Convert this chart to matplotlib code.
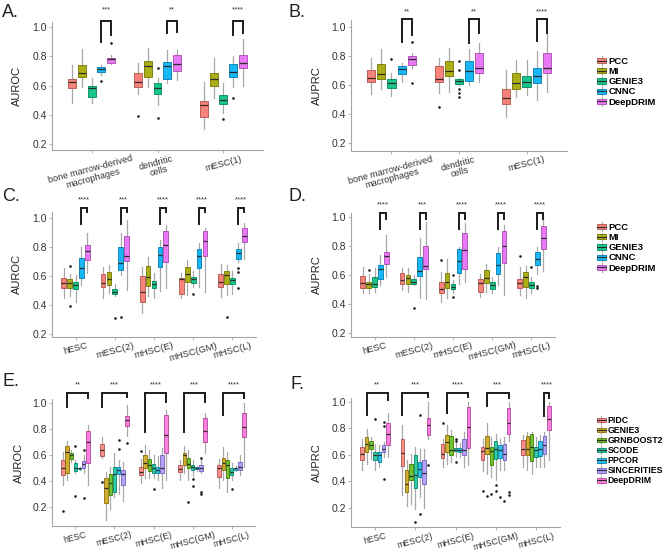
import matplotlib
matplotlib.use("Agg")
import matplotlib.pyplot as plt
import matplotlib.colors as mcolors
from matplotlib.legend_handler import HandlerBase
from matplotlib.patches import Rectangle, Patch
from matplotlib.lines import Line2D
from matplotlib.transforms import ScaledTranslation

plt.rcParams['font.family'] = ['Liberation Sans', 'DejaVu Sans']

# ---------------------------------------------------------------------------
# Données : [groupe][méthode]
# ---------------------------------------------------------------------------
METHODS_5 = ["PCC", "MI", "GENIE3", "CNNC", "DeepDRIM"]
COLORS_5 = ["#F8766D", "#A3A500", "#00BF7D", "#00B0F6", "#E76BF3"]
METHODS_7 = ["PIDC", "GENIE3", "GRNBOOST2", "SCODE", "PPCOR", "SINCERITIES", "DeepDRIM"]
COLORS_7 = ["#F8766D", "#C49A00", "#53B400", "#00C094", "#00B6EB", "#A58AFF", "#FB61D7"]

GROUPS_AB = ["bone marrow-derived\nmacrophages", "dendritic\ncells", "mESC(1)"]
GROUPS_CF = ["hESC", "mESC(2)", "mHSC(E)", "mHSC(GM)", "mHSC(L)"]
YTICKS = [0.2, 0.4, 0.6, 0.8, 1.0]

# A. AUROC
A_LO = [[0.48, 0.59, 0.48, 0.67, 0.75], [0.541, 0.593, 0.467, 0.616, 0.639], [0.30, 0.513, 0.41, 0.593, 0.60]]
A_Q1 = [[0.586, 0.657, 0.52, 0.696, 0.758], [0.593, 0.662, 0.541, 0.646, 0.703], [0.383, 0.598, 0.474, 0.657, 0.719]]
A_MED = [[0.627, 0.689, 0.582, 0.717, 0.783], [0.623, 0.737, 0.582, 0.735, 0.746], [0.467, 0.643, 0.502, 0.696, 0.758]]
A_Q3 = [[0.646, 0.742, 0.60, 0.728, 0.792], [0.685, 0.769, 0.616, 0.76, 0.81], [0.495, 0.685, 0.536, 0.746, 0.81]]
A_HI = [[0.742, 0.849, 0.655, 0.742, 0.81], [0.753, 0.856, 0.65, 0.845, 0.845], [0.627, 0.792, 0.616, 0.803, 0.92]]
A_OUT = [(0, 3, 0.63), (0, 4, 0.89), (1, 0, 0.394), (1, 2, 0.376), (1, 2, 0.72), (2, 2, 0.37), (2, 3, 0.518)]
A_SIG = ["***", "**", "****"]

# B. AUPRC
B_LO = [[0.538, 0.57, 0.527, 0.618, 0.714], [0.543, 0.554, 0.60, 0.60, 0.623], [0.383, 0.52, 0.53, 0.497, 0.554]]
B_Q1 = [[0.623, 0.641, 0.577, 0.673, 0.737], [0.623, 0.662, 0.607, 0.63, 0.685], [0.468, 0.573, 0.584, 0.616, 0.68]]
B_MED = [[0.646, 0.675, 0.611, 0.707, 0.78], [0.641, 0.698, 0.627, 0.694, 0.717], [0.509, 0.616, 0.623, 0.664, 0.715]]
B_Q3 = [[0.703, 0.744, 0.641, 0.73, 0.799], [0.73, 0.765, 0.639, 0.767, 0.822], [0.573, 0.68, 0.662, 0.72, 0.82]]
B_HI = [[0.783, 0.845, 0.68, 0.749, 0.817], [0.783, 0.856, 0.65, 0.845, 0.886], [0.703, 0.77, 0.77, 0.83, 0.95]]
B_OUT = [(0, 2, 0.78), (0, 4, 0.897), (0, 4, 0.611), (1, 0, 0.447),
         (1, 2, 0.765), (1, 2, 0.70), (1, 2, 0.575), (1, 2, 0.545), (1, 2, 0.52)]
B_SIG = ["**", "**", "****"]

# C. AUROC
C_LO = [[0.447, 0.465, 0.424, 0.539, 0.62], [0.451, 0.481, 0.46, 0.608, 0.504], [0.343, 0.465, 0.447, 0.497, 0.516],
        [0.447, 0.47, 0.527, 0.527, 0.493], [0.458, 0.47, 0.48, 0.70, 0.716]]
C_Q1 = [[0.516, 0.516, 0.509, 0.585, 0.71], [0.527, 0.539, 0.475, 0.643, 0.705], [0.419, 0.532, 0.516, 0.666, 0.696],
        [0.474, 0.562, 0.55, 0.654, 0.74], [0.527, 0.544, 0.544, 0.72, 0.839]]
C_MED = [[0.555, 0.55, 0.539, 0.654, 0.774], [0.55, 0.58, 0.49, 0.689, 0.74], [0.493, 0.597, 0.546, 0.746, 0.816],
         [0.58, 0.615, 0.578, 0.74, 0.843], [0.557, 0.608, 0.573, 0.758, 0.88]]
C_Q3 = [[0.585, 0.578, 0.562, 0.723, 0.816], [0.613, 0.627, 0.509, 0.80, 0.878], [0.603, 0.673, 0.569, 0.804, 0.912],
        [0.59, 0.666, 0.597, 0.786, 0.912], [0.615, 0.636, 0.59, 0.786, 0.935]]
C_HI = [[0.659, 0.613, 0.608, 0.804, 0.896], [0.666, 0.677, 0.545, 0.896, 0.988], [0.666, 0.735, 0.62, 0.85, 0.954],
        [0.62, 0.712, 0.636, 0.827, 0.935], [0.682, 0.677, 0.636, 0.827, 0.965]]
C_OUT = [(0, 1, 0.396), (0, 1, 0.67), (1, 2, 0.313), (1, 3, 0.32), (3, 2, 0.48),
         (4, 1, 0.32), (4, 3, 0.66), (4, 3, 0.63), (4, 3, 0.52)]
C_SIG = ["****", "***", "****", "****", "****"]

# D. AUPRC
D_LO = [[0.476, 0.476, 0.487, 0.533, 0.591], [0.499, 0.487, 0.533, 0.441, 0.437], [0.418, 0.441, 0.476, 0.538, 0.556],
        [0.453, 0.487, 0.476, 0.533, 0.464], [0.464, 0.441, 0.476, 0.607, 0.63]]
D_Q1 = [[0.515, 0.51, 0.522, 0.572, 0.676], [0.538, 0.54, 0.54, 0.598, 0.641], [0.476, 0.51, 0.506, 0.614, 0.641],
        [0.487, 0.549, 0.506, 0.607, 0.687], [0.51, 0.522, 0.51, 0.671, 0.779]]
D_MED = [[0.545, 0.54, 0.538, 0.641, 0.733], [0.568, 0.579, 0.556, 0.63, 0.664], [0.506, 0.556, 0.522, 0.699, 0.775],
         [0.545, 0.579, 0.533, 0.671, 0.802], [0.549, 0.591, 0.533, 0.713, 0.855]]
D_Q3 = [[0.598, 0.556, 0.591, 0.671, 0.763], [0.614, 0.602, 0.575, 0.729, 0.802], [0.556, 0.618, 0.538, 0.779, 0.89],
        [0.572, 0.637, 0.556, 0.752, 0.908], [0.572, 0.621, 0.556, 0.759, 0.94]]
D_HI = [[0.66, 0.607, 0.648, 0.74, 0.878], [0.653, 0.648, 0.602, 0.86, 0.97], [0.621, 0.713, 0.57, 0.798, 0.96],
        [0.607, 0.678, 0.591, 0.798, 0.947], [0.66, 0.664, 0.591, 0.798, 0.993]]
D_OUT = [(0, 1, 0.637), (1, 2, 0.377), (2, 0, 0.706), (2, 2, 0.448), (2, 2, 0.60),
         (4, 0, 0.733), (4, 2, 0.66), (4, 3, 0.526), (4, 3, 0.51)]
D_SIG = ["****", "***", "****", "****", "****"]

# E. AUROC (7 méthodes)
E_LO = [[0.372, 0.41, 0.55, 0.46, 0.49, 0.46, 0.372], [0.577, 0.10, 0.19, 0.28, 0.30, 0.25, 0.749],
        [0.385, 0.423, 0.423, 0.423, 0.41, 0.346, 0.41], [0.41, 0.46, 0.41, 0.44, 0.48, 0.46, 0.615],
        [0.346, 0.41, 0.32, 0.41, 0.48, 0.45, 0.513]]
E_Q1 = [[0.449, 0.467, 0.572, 0.482, 0.495, 0.50, 0.538], [0.595, 0.236, 0.295, 0.32, 0.456, 0.372, 0.826],
        [0.449, 0.50, 0.479, 0.462, 0.467, 0.462, 0.615], [0.474, 0.526, 0.50, 0.487, 0.495, 0.482, 0.705],
        [0.436, 0.487, 0.423, 0.449, 0.49, 0.487, 0.744]]
E_MED = [[0.50, 0.623, 0.605, 0.50, 0.50, 0.531, 0.705], [0.641, 0.346, 0.385, 0.454, 0.487, 0.454, 0.872],
         [0.469, 0.544, 0.526, 0.50, 0.49, 0.50, 0.756], [0.492, 0.603, 0.533, 0.508, 0.50, 0.50, 0.787],
         [0.50, 0.538, 0.526, 0.474, 0.50, 0.513, 0.815]]
E_Q3 = [[0.564, 0.672, 0.62, 0.538, 0.505, 0.559, 0.787], [0.687, 0.423, 0.456, 0.508, 0.508, 0.487, 0.903],
        [0.513, 0.603, 0.569, 0.533, 0.513, 0.603, 0.91], [0.526, 0.615, 0.577, 0.526, 0.51, 0.526, 0.885],
        [0.526, 0.577, 0.564, 0.50, 0.505, 0.551, 0.923]]
E_HI = [[0.628, 0.71, 0.64, 0.56, 0.51, 0.60, 0.833], [0.744, 0.474, 0.513, 0.615, 0.56, 0.55, 0.987],
        [0.569, 0.68, 0.64, 0.60, 0.595, 0.654, 0.95], [0.56, 0.67, 0.64, 0.564, 0.52, 0.56, 0.923],
        [0.569, 0.667, 0.628, 0.54, 0.52, 0.60, 1.0]]
E_OUT = [(0, 0, 0.174), (0, 3, 0.674), (0, 3, 0.287), (0, 5, 0.64), (0, 5, 0.275),
         (1, 0, 0.397), (1, 4, 0.646), (1, 4, 0.718), (1, 6, 0.697),
         (2, 0, 0.633), (2, 3, 0.338),
         (3, 2, 0.244), (3, 3, 0.42), (3, 3, 0.364), (3, 5, 0.577), (3, 5, 0.303), (3, 5, 0.315),
         (4, 3, 0.338)]
E_SIG = ["**", "***", "****", "***", "****"]

# F. AUPRC (7 méthodes)
F_LO = [[0.482, 0.533, 0.571, 0.482, 0.508, 0.583, 0.583], [0.293, 0.217, 0.23, 0.19, 0.28, 0.20, 0.72],
        [0.508, 0.533, 0.545, 0.58, 0.58, 0.508, 0.52], [0.48, 0.457, 0.432, 0.407, 0.482, 0.482, 0.70],
        [0.508, 0.482, 0.457, 0.508, 0.508, 0.508, 0.558]]
F_Q1 = [[0.558, 0.621, 0.646, 0.558, 0.545, 0.621, 0.672], [0.513, 0.318, 0.407, 0.351, 0.432, 0.376, 0.747],
        [0.578, 0.621, 0.596, 0.626, 0.621, 0.596, 0.654], [0.558, 0.604, 0.525, 0.571, 0.578, 0.558, 0.76],
        [0.596, 0.596, 0.55, 0.583, 0.591, 0.609, 0.785]]
F_MED = [[0.604, 0.684, 0.672, 0.596, 0.596, 0.646, 0.76], [0.614, 0.376, 0.437, 0.444, 0.495, 0.465, 0.823],
         [0.609, 0.697, 0.634, 0.634, 0.634, 0.634, 0.806], [0.629, 0.654, 0.629, 0.641, 0.634, 0.609, 0.841],
         [0.646, 0.641, 0.659, 0.634, 0.641, 0.672, 0.866]]
F_Q3 = [[0.659, 0.735, 0.702, 0.621, 0.621, 0.672, 0.836], [0.722, 0.487, 0.533, 0.596, 0.545, 0.563, 0.874],
        [0.684, 0.747, 0.74, 0.654, 0.654, 0.722, 0.957], [0.659, 0.74, 0.659, 0.702, 0.672, 0.684, 0.949],
        [0.715, 0.74, 0.755, 0.659, 0.705, 0.74, 0.967]]
F_HI = [[0.722, 0.798, 0.735, 0.684, 0.672, 0.697, 0.912], [0.823, 0.558, 0.609, 0.659, 0.646, 0.646, 1.0],
        [0.722, 0.823, 0.785, 0.69, 0.69, 0.773, 1.0], [0.722, 0.836, 0.735, 0.76, 0.722, 0.735, 1.0],
        [0.747, 0.773, 0.773, 0.735, 0.747, 0.773, 1.0]]
F_OUT = [(0, 3, 0.866), (0, 5, 0.85), (0, 5, 0.82), (0, 5, 0.42),
         (1, 3, 0.09), (1, 4, 0.15), (1, 4, 0.90), (1, 6, 0.52),
         (2, 0, 0.843), (2, 3, 0.72), (2, 3, 0.70), (2, 3, 0.545),
         (3, 0, 0.33), (3, 1, 0.29), (3, 2, 0.305), (3, 3, 0.325), (3, 3, 0.37), (3, 4, 0.28),
         (3, 5, 0.255), (3, 6, 0.32), (3, 6, 0.30)]
F_SIG = ["**", "***", "****", "***", "****"]

# Crochets de significativité : (méthode gauche, méthode droite, bas jambe gauche, bas jambe droite)
A_BR = [(3, 4, 0.90, 0.947), (3, 4, 0.959, 0.97), (3, 4, 0.947, 0.96)]
B_BR = [(3, 4, 0.897, 0.943), (3, 4, 0.886, 0.954), (3, 4, 0.90, 0.96)]
C_BR = [(3, 4, 0.958, 1.046)] * 5
D_BR = [(3, 4, 0.92, 0.99)] * 5
E_BR = [(1, 6, 0.974, 1.04), (0, 6, 0.974, 1.046), (1, 6, 0.78, 1.013), (1, 6, 0.78, 1.013), (1, 6, 0.91, 1.04)]
F_BR = [(1, 6, 0.899, 1.013), (0, 6, 0.899, 1.033), (1, 6, 0.912, 1.038), (1, 6, 0.968, 1.025), (5, 6, 0.89, 1.025)]

# ---------------------------------------------------------------------------
W, H = 666, 552
fig = plt.figure(figsize=(W / 100, H / 100), dpi=100)


def px_axes(left, top, right, bottom):
    """Axes placé en pixels (origine en haut à gauche)."""
    return fig.add_axes([left / W, 1 - bottom / H, (right - left) / W, (bottom - top) / H])


def darker(c, f=0.7):
    r, g, b = mcolors.to_rgb(c)
    return (r * f, g * f, b * f)


def panel(ax, groups, colors, lo, q1, med, q3, hi, out, sig, brackets,
          ylim, br_top, star_y, alpha, xfont, xshift):
    n = len(colors)
    step = 0.75 / n
    for g in range(len(groups)):
        for m in range(n):
            x = g + 1 + (m - (n - 1) / 2) * step
            st = dict(med=med[g][m], q1=q1[g][m], q3=q3[g][m],
                      whislo=lo[g][m], whishi=hi[g][m],
                      fliers=[v for (gg, mm, v) in out if gg == g and mm == m])
            ax.bxp([st], positions=[x], widths=step * 0.8, patch_artist=True,
                   showcaps=False, manage_ticks=False,
                   boxprops=dict(facecolor=mcolors.to_rgba(colors[m], alpha),
                                 edgecolor=darker(colors[m]), linewidth=0.6, zorder=3),
                   whiskerprops=dict(color="#A8A8A8", linewidth=0.9, zorder=2),
                   medianprops=dict(color="#2b2b2b", linewidth=0.9, zorder=4),
                   flierprops=dict(marker="o", markersize=0.9, markerfacecolor="#222222",
                                   markeredgecolor="#222222", zorder=2))
        li, ri, lb, rb = brackets[g]
        xl = g + 1 + (li - (n - 1) / 2) * step
        xr = g + 1 + (ri - (n - 1) / 2) * step
        ax.plot([xl, xl, xr, xr], [lb, br_top, br_top, rb], color="#1a1a1a",
                lw=1.4, clip_on=False, solid_joinstyle="miter", zorder=5)
        ax.text((xl + xr) / 2, star_y, sig[g], ha="center", va="center",
                fontsize=5.5, color="#333333", clip_on=False)

    ax.set_xlim(0.4, len(groups) + 0.6)
    ax.set_ylim(*ylim)
    ax.set_yticks(YTICKS)
    ax.set_yticklabels([f"{t:.1f}" for t in YTICKS], fontsize=7.5)
    ax.set_xticks(range(1, len(groups) + 1))
    ax.set_xticklabels(groups, rotation=15, ha="center", fontsize=xfont,
                       multialignment="center", linespacing=0.95)
    for lab in ax.get_xticklabels():
        lab.set_transform(lab.get_transform() + ScaledTranslation(xshift / 100, 0, fig.dpi_scale_trans))
    for s in ("top", "right"):
        ax.spines[s].set_visible(False)
    for s in ("left", "bottom"):
        ax.spines[s].set_color("#A6A6A6")
        ax.spines[s].set_linewidth(0.8)
    ax.tick_params(length=2, width=0.6, color="#A6A6A6", labelcolor="#333333", pad=1.5)
    ax.tick_params(axis="x", pad=1)
    ax.patch.set_alpha(0)


class BoxKey(HandlerBase):
    """Clé de légende façon ggplot : boîte + médiane + moustaches."""
    def create_artists(self, legend, orig_handle, xdescent, ydescent, width, height, fontsize, trans):
        x0, y0 = -xdescent, -ydescent
        fc = orig_handle.get_facecolor()
        ec = orig_handle.get_edgecolor()
        wl = Line2D([x0 + width / 2] * 2, [y0 - 0.1 * height, y0 + 1.1 * height],
                    color="#A8A8A8", lw=0.8, transform=trans)
        box = Rectangle((x0, y0 + 0.15 * height), width, 0.7 * height, facecolor=fc,
                        edgecolor=ec, lw=0.6, transform=trans)
        ml = Line2D([x0, x0 + width], [y0 + height / 2] * 2, color="#2b2b2b", lw=0.8, transform=trans)
        return [wl, box, ml]


def legend(methods, colors, alpha, left, top, size):
    handles = [Patch(facecolor=mcolors.to_rgba(c, alpha), edgecolor=darker(c)) for c in colors]
    fig.legend(handles, methods, handler_map={Patch: BoxKey()}, loc="upper left",
               bbox_to_anchor=(left / W, 1 - top / H), frameon=False,
               prop=dict(size=size, weight="bold"), handlelength=1.0, handleheight=0.8,
               handletextpad=0.2, labelspacing=0.12, borderpad=0, borderaxespad=0)


axA = px_axes(52, 21.6, 263, 150)
panel(axA, GROUPS_AB, COLORS_5, A_LO, A_Q1, A_MED, A_Q3, A_HI, A_OUT, A_SIG, A_BR,
      (0.159, 1.039), 1.046, 1.12, 0.9, 6.6, -6)
axB = px_axes(351, 20, 567, 150.6)
panel(axB, GROUPS_AB, COLORS_5, B_LO, B_Q1, B_MED, B_Q3, B_HI, B_OUT, B_SIG, B_BR,
      (0.15, 1.046), 1.05, 1.103, 0.9, 6.6, -6)
axC = px_axes(52, 211.7, 256, 336.9)
panel(axC, GROUPS_CF, COLORS_5, C_LO, C_Q1, C_MED, C_Q3, C_HI, C_OUT, C_SIG, C_BR,
      (0.18, 1.046), 1.074, 1.127, 0.9, 6.8, -8)
axD = px_axes(351, 213, 555, 336.7)
panel(axD, GROUPS_CF, COLORS_5, D_LO, D_Q1, D_MED, D_Q3, D_HI, D_OUT, D_SIG, D_BR,
      (0.177, 1.03), 1.032, 1.085, 0.9, 6.8, -8)
axE = px_axes(52, 399.4, 255, 526)
panel(axE, GROUPS_CF, COLORS_7, E_LO, E_Q1, E_MED, E_Q3, E_HI, E_OUT, E_SIG, E_BR,
      (0.056, 1.03), 1.082, 1.141, 0.8, 6.4, -8)
axF = px_axes(351, 398.4, 560, 527.3)
panel(axF, GROUPS_CF, COLORS_7, F_LO, F_Q1, F_MED, F_Q3, F_HI, F_OUT, F_SIG, F_BR,
      (0.053, 1.025), 1.068, 1.126, 0.8, 6.4, -8)

# titres d'axes y
for x, (top, bottom), lab in [(17, (21.6, 150), "AUROC"), (317, (20, 150.6), "AUPRC"),
                              (17, (211.7, 336.9), "AUROC"), (317, (213, 336.7), "AUPRC"),
                              (19, (399.4, 526), "AUROC"), (317, (398.4, 527.3), "AUPRC")]:
    fig.text(x / W, 1 - (top + bottom) / 2 / H, lab, rotation=90, ha="center", va="center",
             fontsize=8, color="#222222")

# lettres des panneaux
for x, y, lab in [(2, 4, "A."), (289, 4, "B."), (2, 188, "C."), (289, 188, "D."),
                  (2, 373, "E."), (291, 376, "F.")]:
    fig.text(x / W, 1 - y / H, lab, ha="left", va="top", fontsize=13, color="#222222")

legend(METHODS_5, COLORS_5, 0.9, 597, 57, 6.8)
legend(METHODS_5, COLORS_5, 0.9, 597, 223, 6.8)
legend(METHODS_7, COLORS_7, 0.8, 597, 416, 6.3)

fig.savefig("out.png", dpi=100)
